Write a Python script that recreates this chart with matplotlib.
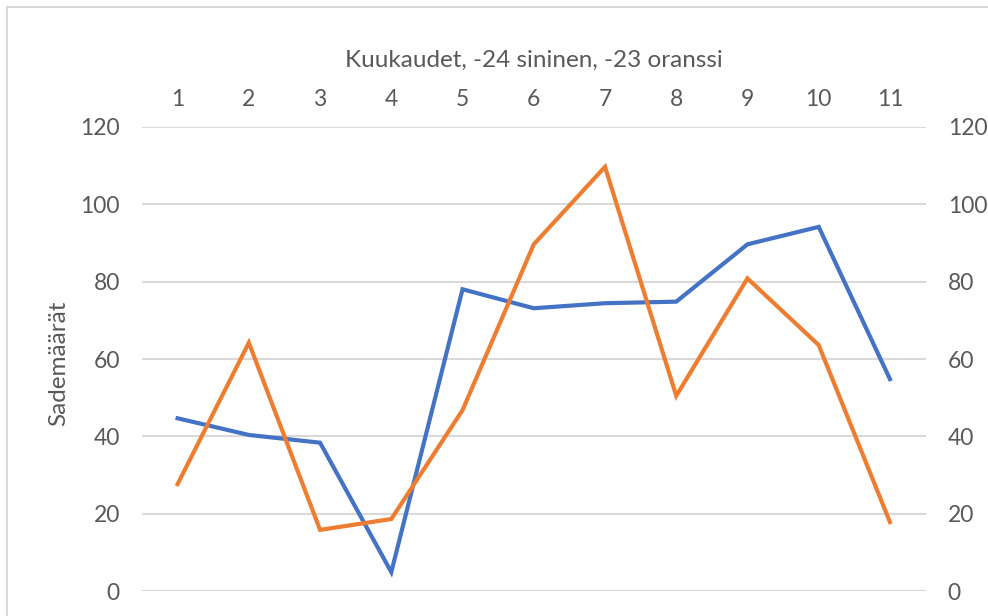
import matplotlib.pyplot as plt
from matplotlib.lines import Line2D

# monthly rainfall, blue = 2024, orange = 2023
months = [1, 2, 3, 4, 5, 6, 7, 8, 9, 10, 11]
rain_24 = [44.7, 40.4, 38.4, 5.0, 78.0, 73.1, 74.4, 74.8, 89.6, 94.1, 54.8]
rain_23 = [27.7, 64.2, 15.9, 18.7, 46.8, 89.6, 109.6, 50.5, 80.8, 63.6, 17.9]
y_ticks = [0, 20, 40, 60, 80, 100, 120]

plt.rcParams["font.family"] = ["Lato", "DejaVu Sans"]
text_col = "#595959"
grid_col = "#D9D9D9"
fs = 16.5

fig = plt.figure(figsize=(9.88, 6.16), dpi=100)
ax = fig.add_axes([0.1437, 0.0398, 0.7931, 0.7548])

ax.plot(months, rain_24, color="#4472C4", lw=3.0, solid_joinstyle="miter")
ax.plot(months, rain_23, color="#ED7D31", lw=3.0, solid_joinstyle="miter")

ax.set_xlim(0.5, 11.5)
ax.set_ylim(0, 120)
ax.set_yticks(y_ticks)
ax.set_xticks(months)
ax.xaxis.tick_top()
ax.xaxis.set_label_position("top")
ax.set_xlabel("Kuukaudet, -24 sininen, -23 oranssi", fontsize=17.5,
              color=text_col, labelpad=16)
ax.grid(axis="y", color=grid_col, lw=1.5)
ax.set_axisbelow(True)
for s in ax.spines.values():
    s.set_visible(False)
ax.tick_params(length=0, labelsize=fs, labelcolor=text_col)
ax.tick_params(axis="x", pad=12)
ax.tick_params(axis="y", pad=16)

ax2 = ax.twinx()
ax2.set_ylim(0, 120)
ax2.set_yticks(y_ticks)
for s in ax2.spines.values():
    s.set_visible(False)
ax2.tick_params(length=0, labelsize=fs, labelcolor=text_col, pad=16)

fig.text(0.059, 0.411, "Sademäärät", rotation=90, ha="center", va="center",
         fontsize=17.5, color=text_col)

# chart area border (only top and left visible in the crop)
fig.add_artist(Line2D([0.007, 1.0], [0.989, 0.989], color=grid_col, lw=1.5,
                      transform=fig.transFigure))
fig.add_artist(Line2D([0.007, 0.007], [0.0, 0.989], color=grid_col, lw=1.5,
                      transform=fig.transFigure))

fig.savefig("out.png", dpi=100)
